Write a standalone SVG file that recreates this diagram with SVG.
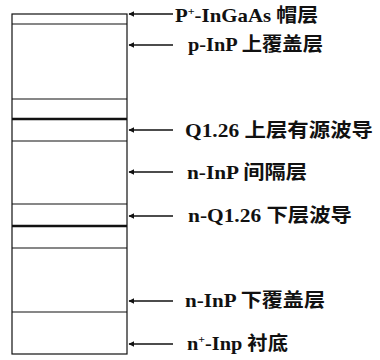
<svg xmlns="http://www.w3.org/2000/svg" width="380" height="360" viewBox="0 0 380 360">
<style>
.lay{fill:none;stroke:#111;stroke-width:1.2}
.thick{stroke:#111;stroke-width:2.4}
.thin{stroke:#111;stroke-width:1.2}
.ld{stroke:#111;stroke-width:1.4;fill:none;marker-start:url(#ah)}
.lb{font-family:"Liberation Serif","Noto Sans CJK SC",serif;font-weight:bold;font-size:19px;fill:#111}
.sup{font-size:11px}
</style>
<defs>
<marker id="ah" viewBox="0 0 10 10" refX="1" refY="5" markerWidth="4" markerHeight="4" orient="auto" markerUnits="strokeWidth">
<path d="M10,0 L0,5 L10,10 z" fill="#111"/>
</marker>
</defs>
<rect width="380" height="360" fill="#fff"/>
<g id="stack">
<rect class="lay" x="12" y="14" width="115" height="340"/>
<line class="thin" x1="12" y1="24" x2="127" y2="24"/>
<line class="thin" x1="12" y1="99" x2="127" y2="99"/>
<line class="thick" x1="12" y1="119" x2="127" y2="119"/>
<line class="thin" x1="12" y1="141" x2="127" y2="141"/>
<line class="thin" x1="12" y1="204" x2="127" y2="204"/>
<line class="thick" x1="12" y1="226" x2="127" y2="226"/>
<line class="thin" x1="12" y1="248" x2="127" y2="248"/>
<line class="thin" x1="12" y1="312" x2="127" y2="312"/>
</g>
<g id="connectors">
<line class="ld" x1="129" y1="14" x2="173" y2="14"/>
<line class="ld" x1="129" y1="45" x2="173" y2="45"/>
<line class="ld" x1="129" y1="130" x2="173" y2="130"/>
<line class="ld" x1="129" y1="172" x2="173" y2="172"/>
<line class="ld" x1="129" y1="216" x2="173" y2="216"/>
<line class="ld" x1="129" y1="301" x2="173" y2="301"/>
<line class="ld" x1="129" y1="344" x2="173" y2="344"/>
</g>
<g id="labels">
<text id="t1" class="lb" x="175" y="22" textLength="143" lengthAdjust="spacingAndGlyphs">P<tspan class="sup" dy="-7">+</tspan><tspan dy="7">-InGaAs 帽层</tspan></text>
<text id="t2" class="lb" x="188" y="51" textLength="135" lengthAdjust="spacingAndGlyphs">p-InP 上覆盖层</text>
<text id="t3" class="lb" x="185" y="137" textLength="188" lengthAdjust="spacingAndGlyphs">Q1.26 上层有源波导</text>
<text id="t4" class="lb" x="187" y="179" textLength="120" lengthAdjust="spacingAndGlyphs">n-InP 间隔层</text>
<text id="t5" class="lb" x="188" y="222" textLength="164" lengthAdjust="spacingAndGlyphs">n-Q1.26 下层波导</text>
<text id="t6" class="lb" x="185" y="307" textLength="140" lengthAdjust="spacingAndGlyphs">n-InP 下覆盖层</text>
<text id="t7" class="lb" x="187" y="350" textLength="101" lengthAdjust="spacingAndGlyphs">n<tspan class="sup" dy="-7">+</tspan><tspan dy="7">-Inp 衬底</tspan></text>
</g>
</svg>
